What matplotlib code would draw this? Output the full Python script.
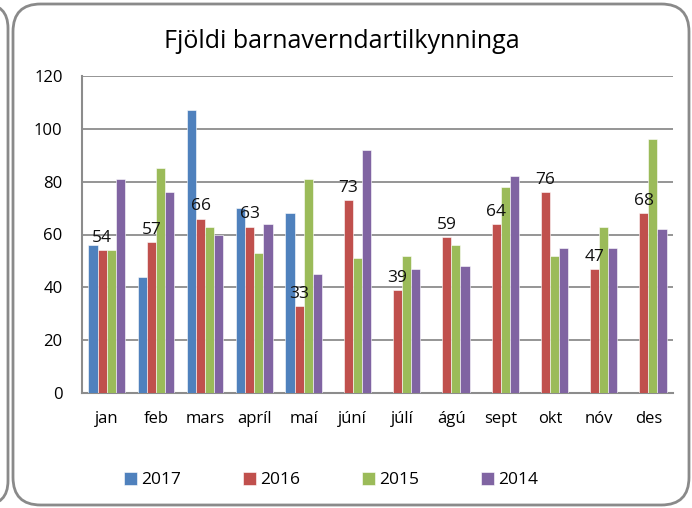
import matplotlib
matplotlib.use('Agg')
import matplotlib.pyplot as plt
import numpy as np
from matplotlib.patches import FancyBboxPatch

plt.rcParams['font.family'] = ['Open Sans', 'DejaVu Sans']

manudir = ['jan', 'feb', 'mars', 'apríl', 'maí', 'júní', 'júlí', 'ágú', 'sept', 'okt', 'nóv', 'des']
ar = ['2017', '2016', '2015', '2014']
gildi_2017 = [56, 44, 107, 70, 68, np.nan, np.nan, np.nan, np.nan, np.nan, np.nan, np.nan]
gildi_2016 = [54, 57, 66, 63, 33, 73, 39, 59, 64, 76, 47, 68]
gildi_2015 = [54, 85, 63, 53, 81, 51, 52, 56, 78, 52, 63, 96]
gildi_2014 = [81, 76, 60, 64, 45, 92, 47, 48, 82, 55, 55, 62]
litir = ['#4F81BD', '#C0504D', '#9BBB59', '#8064A2']

fig = plt.figure(figsize=(6.92, 5.08), dpi=100)
ax = fig.add_axes([82/692, 1-393/508, (673-82)/692, (393-76)/508])

x = np.arange(len(manudir))
w = 0.185
rodir = [gildi_2017, gildi_2016, gildi_2015, gildi_2014]
for i, (gogn, lit, nafn) in enumerate(zip(rodir, litir, ar)):
    ax.bar(x + (i - 1.5)*w, gogn, width=w, color=lit, edgecolor='white',
           linewidth=0.4, label=nafn, zorder=3)

# gildi 2016 ofan a sulunum
for xi, v in zip(x, gildi_2016):
    ax.annotate(str(v), xy=(xi - 0.5*w, v), xytext=(0, 3), textcoords='offset points',
                ha='center', va='bottom', fontsize=12.5, color='#111111', zorder=4)

ax.set_xlim(-0.5, 11.5)
ax.set_ylim(0, 120)
ax.set_yticks(range(0, 121, 20))
ax.set_xticks(x)
ax.set_xticklabels(manudir)
ax.tick_params(axis='both', length=0, labelsize=12, colors='black')
ax.tick_params(axis='y', pad=14)
ax.tick_params(axis='x', pad=13)
ax.yaxis.grid(True, color='#8C8C8C', linewidth=1.3, zorder=0)
ax.set_axisbelow(True)
for s in ['top', 'right']:
    ax.spines[s].set_visible(False)
for s in ['left', 'bottom']:
    ax.spines[s].set_color('#8C8C8C')
    ax.spines[s].set_linewidth(1.5)

fig.text(342/692, 1-42/508, 'Fjöldi barnaverndartilkynninga', ha='center', va='center', fontsize=18)

hl, lb = ax.get_legend_handles_labels()
fig.legend(hl, lb, loc='center', bbox_to_anchor=(331/692, 1-480/508), ncol=4, frameon=False,
           fontsize=12.5, handlelength=0.75, handleheight=0.75, handletextpad=0.25, columnspacing=3.55)

# rammi
rammi = FancyBboxPatch((13/692, 3/508), (689-13)/692, (504-3)/508,
                       boxstyle='round,pad=0,rounding_size=0.04', transform=fig.transFigure,
                       fill=False, edgecolor='#8A8A8A', linewidth=2, mutation_aspect=692/508)
fig.patches.append(rammi)
rammi2 = FancyBboxPatch((-0.2, 3/508), 0.2 + 8/692, (504-3)/508,
                        boxstyle='round,pad=0,rounding_size=0.035', transform=fig.transFigure,
                        fill=False, edgecolor='#8A8A8A', linewidth=2, mutation_aspect=692/508)
fig.patches.append(rammi2)

fig.savefig('out.png', dpi=100)
